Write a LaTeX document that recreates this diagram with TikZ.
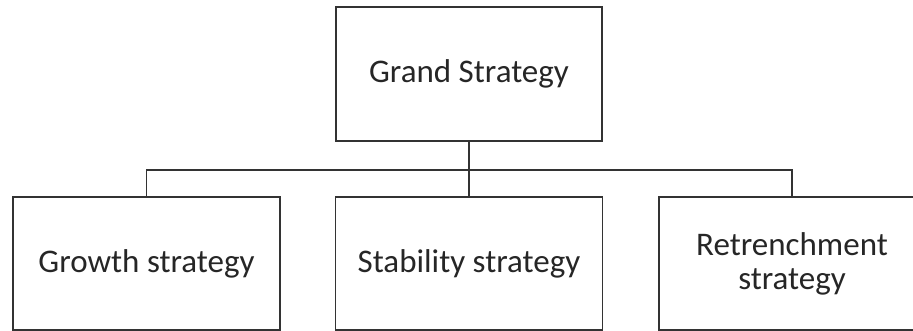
\documentclass[tikz,border=0pt]{standalone}
\usepackage{fontspec}
\setmainfont{Carlito}
\begin{document}
\begin{tikzpicture}[x=1pt,y=1pt,
  boxnode/.style={draw=black!80, line width=1.6pt, minimum width=266pt, minimum height=133pt,
    inner sep=0pt, outer sep=0pt, align=center, text=black!85,
    font=\fontsize{33}{34}\selectfont},
  conn/.style={draw=black!80, line width=1.6pt}]
\useasboundingbox (0,0) rectangle (913,331);
\clip (0,0) rectangle (913,331);
\node[boxnode, minimum height=134pt] (top) at (469,257) {Grand Strategy};
\node[boxnode, minimum width=267pt] (left) at (146.5,67.5) {Growth strategy};
\node[boxnode, minimum width=267pt] (mid) at (469,67.5) {Stability strategy};
\node[boxnode] (right) at (792,67.5) {Retrenchment\\strategy};
\coordinate (bus) at (469,161);
\draw[conn] (top.south) -- (top.south |- bus);
\draw[conn] (left.north) -- (left.north |- bus) -| (right.north);
\draw[conn] (mid.north) -- (mid.north |- bus);
\end{tikzpicture}
\end{document}
